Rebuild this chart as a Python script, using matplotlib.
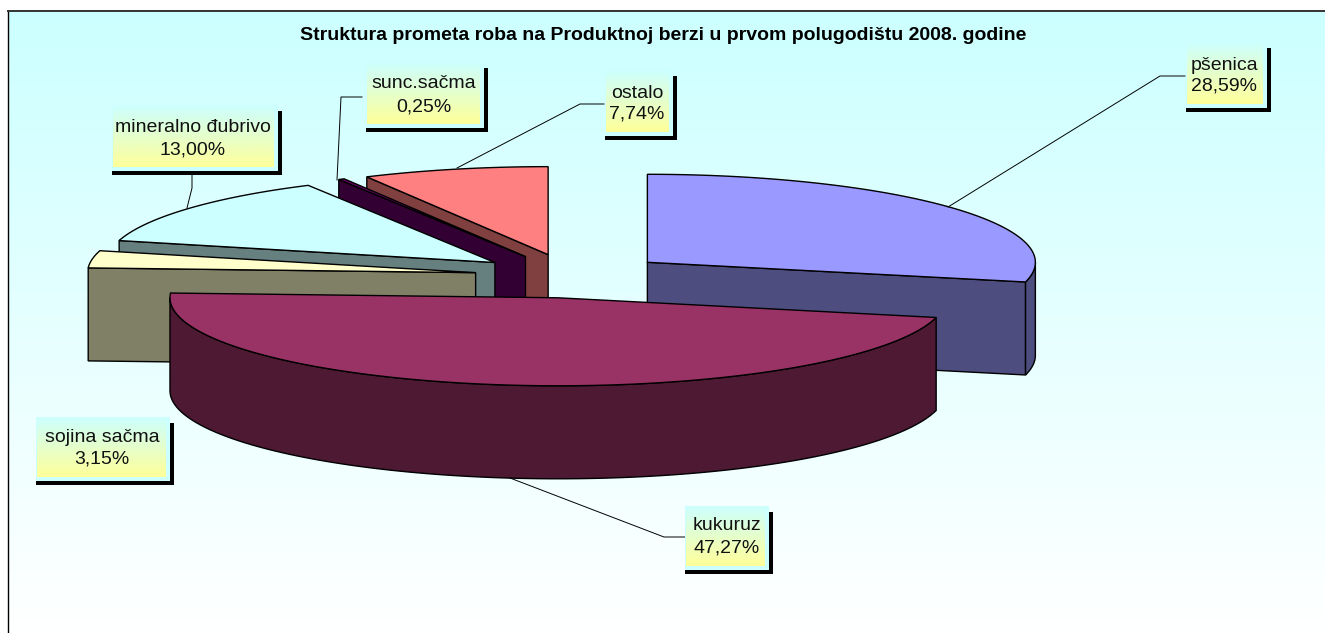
import numpy as np
import matplotlib
matplotlib.use('Agg')
import matplotlib.pyplot as plt
from matplotlib.colors import LinearSegmentedColormap
from matplotlib.patches import Polygon, Rectangle

plt.rcParams['font.family'] = ['Liberation Sans', 'DejaVu Sans']

names = ['pšenica', 'kukuruz', 'sojina sačma', 'mineralno đubrivo', 'sunc.sačma', 'ostalo']
values = [28.59, 47.27, 3.15, 13.00, 0.25, 7.74]
top_colors = ['#9999ff', '#993366', '#ffffcc', '#ccffff', '#660066', '#ff8080']
side_colors = ['#4d4d80', '#4d1933', '#808066', '#668080', '#330033', '#804040']
draw_order = [5, 4, 3, 2, 0, 1]

title = 'Struktura prometa roba na Produktnoj berzi u prvom polugodištu 2008. godine'

# pie geometry in pixels
cx, cy = 571.5, 276
rx, ry = 388, 88
depth = 93
explode = 0.25

# label boxes: x0, y0, x1, y1 and the text centre
boxes = [(1186, 42, 1267, 108), (685, 506, 769, 570), (36, 417, 170, 481),
         (112, 105, 278, 171), (366, 62, 484, 128), (605, 70, 673, 136)]
text_x = [1224, 727, 102, 193, 424, 637]
text_y = [(65, 86), (526, 548), (437, 459), (128, 150), (84, 107), (93, 114)]
leaders = [[(1185, 76), (1160, 76), (948, 207)],
           [(685, 537), (664, 537), (510, 478)],
           None,
           [(192, 175), (192, 188), (187, 208)],
           [(362, 97), (341, 97), (337, 180)],
           [(604, 104), (580, 104), (457, 168)]]

fig = plt.figure(figsize=(13.25, 6.33), dpi=100)
ax = fig.add_axes([0, 0, 1, 1])

bg = LinearSegmentedColormap.from_list('bg', ['#ccffff', '#ffffff'])
box_grad = LinearSegmentedColormap.from_list('box', ['#ccffff', '#ffff99'])
ramp = np.linspace(0, 1, 256).reshape(-1, 1)

ax.imshow(ramp, cmap=bg, extent=(8, 1325, 633, 11), aspect='auto', zorder=0)
ax.plot([8, 8], [11, 633], color='black', lw=1.0, zorder=1)
ax.plot([8, 1325], [11, 11], color='#333333', lw=1.4, zorder=1)


def rim(ox, oy, a, b):
    a = np.radians(np.linspace(a, b, 120))
    return np.column_stack([ox + rx * np.sin(a), oy - ry * np.cos(a)])


edges = np.cumsum([0] + values) * 3.6

for z, i in enumerate(draw_order):
    start, end = edges[i], edges[i + 1]
    mid = np.radians((start + end) / 2)
    ox = cx + explode * rx * np.sin(mid)
    oy = cy - explode * ry * np.cos(mid)
    zz = 2 + z

    # cut walls, only the ones turned to the viewer
    for ang, visible in [(start, np.sin(np.radians(start)) < -1e-6),
                         (end, np.sin(np.radians(end)) > 1e-6)]:
        if visible:
            p = rim(ox, oy, ang, ang)[0]
            ax.add_patch(Polygon([p, (ox, oy), (ox, oy + depth), (p[0], p[1] + depth)],
                                 fc=side_colors[i], ec='black', lw=1.0, zorder=zz))

    # outer wall, front half of the ellipse
    lo, hi = max(start, 90), min(end, 270)
    if lo < hi:
        pts = rim(ox, oy, lo, hi)
        wall = np.vstack([pts, (pts + [0, depth])[::-1]])
        ax.add_patch(Polygon(wall, fc=side_colors[i], ec='black', lw=1.0, zorder=zz))

    face = np.vstack([[(ox, oy)], rim(ox, oy, start, end)])
    ax.add_patch(Polygon(face, fc=top_colors[i], ec='black', lw=1.0, zorder=zz))

for i in range(len(names)):
    x0, y0, x1, y1 = boxes[i]
    ax.add_patch(Rectangle((x0, y0 + 6), x1 + 4 - x0, y1 - y0 - 2, fc='black', ec='none', zorder=20))
    ax.add_patch(Rectangle((x0, y0), x1 - x0, y1 - y0, fc='#ccffff', ec='none', zorder=21))
    ax.imshow(ramp, cmap=box_grad, extent=(x0 + 1, x1 - 4, y1 - 4, y0), aspect='auto', zorder=22)
    ax.text(text_x[i], text_y[i][0], names[i], fontsize=14, ha='center', va='center',
            color='#111111', zorder=23)
    ax.text(text_x[i], text_y[i][1], f'{values[i]:.2f}%'.replace('.', ','), fontsize=14,
            ha='center', va='center', color='#111111', zorder=23)
    if leaders[i]:
        xs, ys = zip(*leaders[i])
        ax.plot(xs, ys, color='black', lw=0.7, zorder=19)

ax.text(663, 36, title, fontsize=14, fontweight='bold', ha='center', va='center', color='black', zorder=23)

ax.set_xlim(0, 1325)
ax.set_ylim(633, 0)
ax.axis('off')
fig.savefig('out.png', dpi=100, facecolor='white')
